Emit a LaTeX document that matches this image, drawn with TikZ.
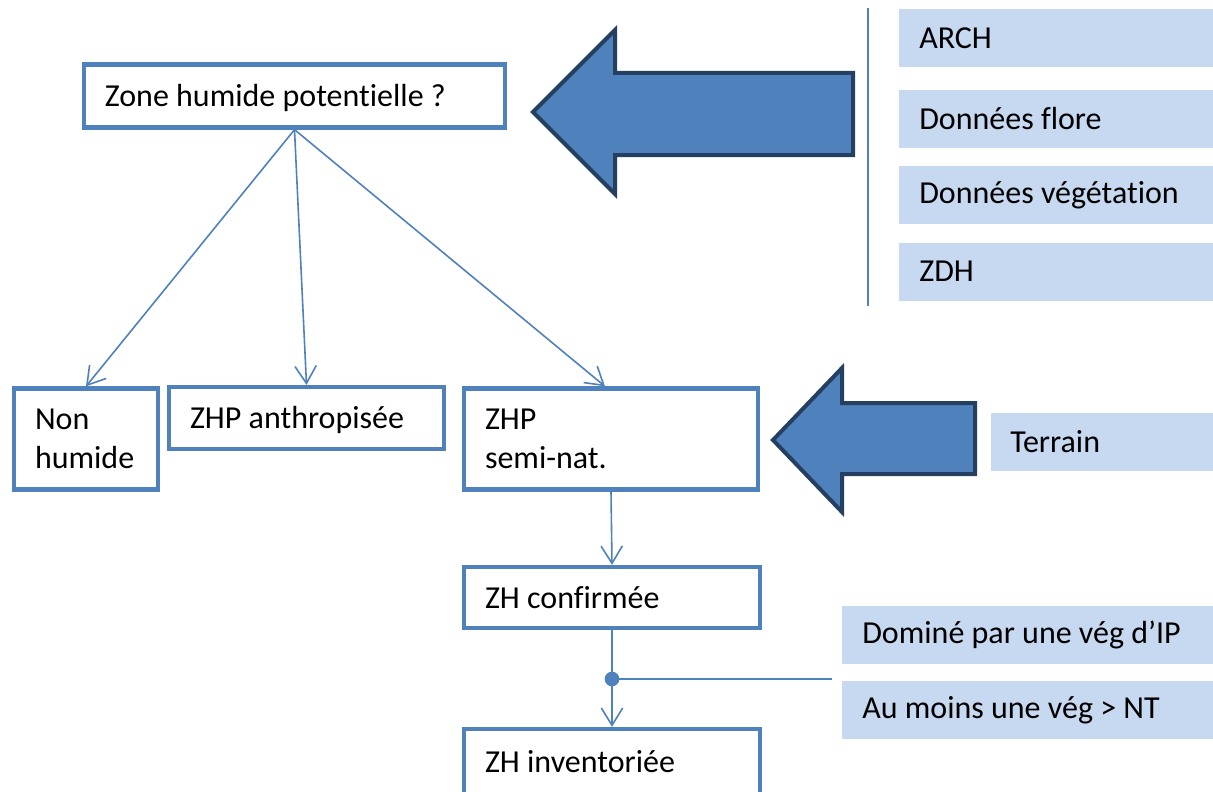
\documentclass[tikz,border=0pt]{standalone}
\usepackage{fontspec}
\setmainfont{Carlito}[Ligatures=NoCommon]
\usetikzlibrary{arrows.meta}
\definecolor{boxblue}{RGB}{79,129,189}
\definecolor{arrowedge}{RGB}{36,63,96}
\definecolor{lightblue}{RGB}{198,217,241}

\begin{document}
\begin{tikzpicture}[x=0.75pt,y=-0.75pt,
stepbox/.style={draw=boxblue, line width=3.2pt, fill=white, align=flush left, inner xsep=15.75pt, inner ysep=0pt, font=\fontsize{24}{29}\selectfont},
oneline/.style={text height=16pt, text depth=0pt},
infobox/.style={fill=lightblue, anchor=west, align=flush left, inner xsep=15pt, inner ysep=0pt, minimum height=43.5pt, text width=280pt, font=\fontsize{24}{29}\selectfont},
link/.style={draw=boxblue, line width=1.2pt, -{Straight Barb[length=13pt,width=16pt]}},
thinline/.style={draw=boxblue, line width=1.2pt},
bigarrow/.style={draw=arrowedge, line width=3pt, fill=boxblue, line join=miter}
]
    \useasboundingbox (0,0) rectangle (1213,792);

    % left column
    \node[stepbox, oneline, text width=284.5pt, minimum height=47.25pt] (zone) at (294.5,96) {Zone humide potentielle ?};
    \node[stepbox, text width=76.5pt, minimum height=75.75pt] (nonhum) at (86,439) {Non\\humide};
    \node[stepbox, oneline, text width=174.75pt, minimum height=46.5pt] (anthr) at (306.5,418) {ZHP anthropisée};
    \node[stepbox, text width=189pt, minimum height=75.75pt] (semi) at (611,439) {ZHP\\semi-nat.};
    \node[stepbox, oneline, text width=190.5pt, minimum height=45.75pt] (confirm) at (612,597.5) {ZH confirmée};
    \node[stepbox, oneline, text width=190.5pt, minimum height=49.5pt] (inv) at (612,762) {ZH inventoriée};

    % right column (boxes run off the right edge)
    \draw[boxblue, line width=1.5pt] (868,8) -- (868,306);
    \node[infobox] (arch) at (899,38.5) {ARCH};
    \node[infobox] (flore) at (899,119) {Données flore};
    \node[infobox] (veg) at (899,195) {Données végétation};
    \node[infobox] (zdh) at (899,271.5) {ZDH};
    \node[infobox, inner xsep=14.25pt] (terrain) at (991,442) {Terrain};
    \node[infobox] (domine) at (842,634.5) {Dominé par une vég d’IP};
    \node[infobox] (aumoins) at (842,710) {Au moins une vég > NT};

    % big arrows
    \draw[bigarrow] (533,112) -- (615,30) -- (615,73) -- (853,73) -- (853,155) -- (615,155) -- (615,194) -- cycle;
    \draw[bigarrow] (773,440) -- (842,368) -- (842,403) -- (975,403) -- (975,474) -- (842,474) -- (842,512) -- cycle;

    % connectors
    \draw[link] (zone.south) -- (nonhum.north);
    \draw[link] (zone.south) -- (anthr.north);
    \draw[link] (zone.south) -- ([xshift=-4.5pt]semi.north);
    \draw[link] (semi.south) -- (confirm.north);

    \coordinate (split) at (612,679);
    \coordinate (splitend) at (832,679);
    \draw[thinline] (confirm.south) -- (split);
    \draw[link] (split) -- (inv.north);
    \draw[thinline] (split) -- (splitend);
    \fill[boxblue] (split) circle (5.5pt);
\end{tikzpicture}
\end{document}
